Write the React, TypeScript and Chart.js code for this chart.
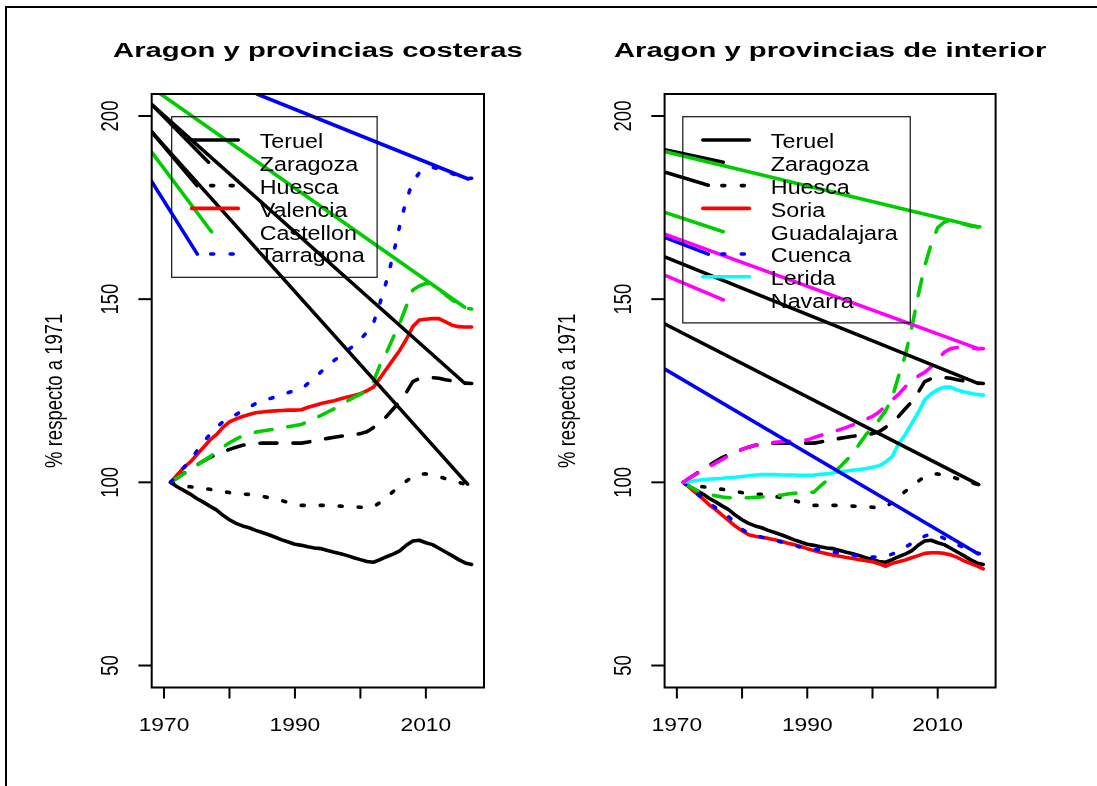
import React, { useEffect, useRef } from "react";
import { Chart, registerables } from "chart.js";

Chart.register(...registerables);

// ---------------- data ----------------
const years = [
  1971, 1972, 1973, 1974, 1975, 1976, 1977, 1978, 1979, 1980,
  1981, 1982, 1983, 1984, 1985, 1986, 1987, 1988, 1989, 1990,
  1991, 1992, 1993, 1994, 1995, 1996, 1997, 1998, 1999, 2000,
  2001, 2002, 2003, 2004, 2005, 2006, 2007, 2008, 2009, 2010,
  2011, 2012, 2013, 2014, 2015, 2016, 2017,
];

const teruel = [
  100, 98.8, 97.8, 96.8, 95.6, 94.6, 93.5, 92.5, 91, 89.8,
  88.8, 88.1, 87.6, 86.9, 86.3, 85.7, 85, 84.3, 83.7, 83.1,
  82.8, 82.4, 82.1, 81.9, 81.4, 80.9, 80.5, 80, 79.4, 78.9,
  78.4, 78.2, 78.9, 79.7, 80.4, 81.3, 82.8, 84, 84.2, 83.5,
  83, 82, 81, 80, 78.9, 78, 77.6,
];
const zaragoza = [
  100, 101.2, 102.4, 103.5, 104.7, 105.8, 106.8, 107.6, 108.3, 109,
  109.6, 110.1, 110.4, 110.6, 110.7, 110.7, 110.7, 110.7, 110.7, 110.7,
  110.7, 111, 111.4, 111.7, 112, 112.3, 112.6, 112.8, 113, 113.3,
  113.8, 115, 116.5, 118, 120, 122, 124.5, 127.5, 128.3, 128.5,
  128.6, 128.4, 128, 127.7, 127.4, 127.1, 127,
];
const huesca = [
  100, 99.5, 99, 98.8, 98.6, 98.3, 98.1, 97.8, 97.5, 97.2,
  96.9, 96.8, 96.7, 96.5, 96.2, 95.8, 95.5, 95, 94.5, 94,
  93.7, 93.7, 93.7, 93.7, 93.7, 93.6, 93.5, 93.4, 93.3, 93.2,
  93.1, 93.3, 94.5, 96, 97.5, 98.8, 100.3, 101.5, 102.2, 102.3,
  102, 101.6, 101, 100.5, 100, 99.5, 99.3,
];
const valencia = [
  100, 102, 104, 105.5, 107.5, 109.5, 111.5, 113, 115, 116.5,
  117.3, 118, 118.5, 119, 119.2, 119.4, 119.5, 119.6, 119.7, 119.7,
  119.8, 120.5, 121, 121.5, 121.9, 122.3, 122.8, 123.3, 123.7, 124.2,
  125, 126, 128.5, 131, 133.5, 136, 139, 142.5, 144.3, 144.5,
  144.7, 144.7, 143.8, 142.9, 142.5, 142.4, 142.4,
];
const castellon = [
  100, 101.2, 102.3, 103.4, 104.6, 105.8, 107, 108.3, 109.6, 110.8,
  111.8, 112.7, 113.3, 113.7, 114, 114.3, 114.5, 114.8, 115.2, 115.5,
  115.8, 116.6, 117.4, 118.3, 119.2, 120.1, 121.1, 122.2, 123.2, 124,
  125, 127.5, 132, 135.5, 139.5, 143.4, 148, 152.5, 153.6, 154.3,
  154, 152.8, 151.2, 149.8, 148.6, 147.6, 147.3,
];
const tarragona = [
  100, 102, 104, 106, 108.5, 111, 113, 115, 116.5, 117.5,
  118.5, 119.5, 120.5, 121.5, 122.3, 122.8, 123.3, 123.8, 124.5, 125,
  125.5, 127, 128.5, 130.2, 131.8, 133.3, 134.5, 136, 137.3, 139,
  141, 143.5, 149, 155, 162, 170, 177, 182, 184.5, 185.5,
  186, 185.5, 185, 184.3, 183.5, 183, 183,
];
const soria = [
  100, 98.5, 97, 95.5, 93.8, 92.5, 91, 89.5, 88, 86.8,
  85.7, 85.3, 85, 84.7, 84.3, 83.9, 83.4, 83, 82.5, 81.9,
  81.4, 80.9, 80.5, 80.1, 79.8, 79.5, 79.2, 78.9, 78.6, 78.3,
  77.8, 77.1, 77.9, 78.3, 78.8, 79.4, 80, 80.6, 80.8, 80.8,
  80.6, 80.2, 79.5, 78.6, 77.9, 77.2, 76.4,
];
const guadalajara = [
  100, 98.8, 97.8, 97.2, 96.7, 96.3, 96, 95.8, 95.8, 95.8,
  95.8, 95.9, 96, 96.2, 96.3, 96.5, 96.8, 97, 97.2, 97.3,
  97.3, 99, 100.5, 102.5, 104.2, 106, 107.8, 110.5, 113, 115,
  117, 119.5, 123, 129, 134.5, 142, 151, 159, 165, 169.5,
  171, 171.5, 171, 170.5, 170, 169.8, 169.7,
];
const cuenca = [
  100, 98.5, 97, 95.7, 94.3, 93, 91.7, 90.5, 88.8, 87.2,
  86, 85.5, 85, 84.7, 84.2, 83.7, 83.3, 82.8, 82.3, 81.9,
  81.7, 81.5, 81.2, 81, 80.7, 80.4, 80.2, 80, 79.8, 79.6,
  79.6, 79.8, 80.4, 81.2, 82.3, 83.3, 84.3, 85.3, 86, 85.5,
  84.7, 83.8, 83, 82.2, 81.4, 80.7, 80.3,
];
const lerida = [
  100, 100.3, 100.5, 100.7, 100.9, 101, 101.1, 101.3, 101.4, 101.6,
  101.8, 102, 102.1, 102.1, 102.1, 102, 102, 102, 101.9, 101.9,
  102, 102.2, 102.3, 102.6, 102.9, 103.1, 103.3, 103.5, 103.8, 104.1,
  104.5, 105.5, 107, 110.5, 113, 116, 119, 122.5, 124.2, 125.3,
  126, 126, 125.2, 124.7, 124.3, 124, 123.8,
];
const navarra = [
  100, 101.3, 102.3, 103.3, 104.3, 105.3, 106.3, 107.3, 108.2, 109,
  109.6, 110.1, 110.4, 110.7, 110.9, 111.1, 111.2, 111.3, 111.4, 111.6,
  112.2, 112.8, 113.3, 113.8, 114.4, 115, 115.7, 116.3, 117.2, 118,
  119.2, 120.8, 122.5, 124, 126, 127.9, 129, 130, 131.5, 133.5,
  135.5, 136.5, 136.8, 136.8, 136.7, 136.5, 136.5,
];

// stray straight strokes present in the original rendering: [x0, y0, x1, y1] in data units
const leftStrayLines = [
  { color: "#000000", seg: [1968.09, 203.2, 2015.93, 127.05] },
  { color: "#000000", seg: [1968.09, 195.7, 2016.37, 99.5] },
  { color: "#00CD00", seg: [1969.48, 206, 2015.93, 147.8] },
  { color: "#0000FF", seg: [1984.2, 206, 2016.48, 182.8] },
  { color: "#000000", seg: [1968.09, 203.2, 1976.8, 187.4] },
  { color: "#000000", seg: [1968.09, 195.7, 1975.04, 181.0] },
  { color: "#00CD00", seg: [1968.09, 190.2, 1977.25, 168.4] },
  { color: "#0000FF", seg: [1968.09, 182.2, 1975.09, 162.3] },
];
const rightStrayLines = [
  { color: "#000000", seg: [1967.95, 161.7, 2016.18, 127.0] },
  { color: "#000000", seg: [1967.95, 143.4, 2016.29, 99.4] },
  { color: "#00CD00", seg: [1967.95, 190.4, 2016.18, 169.7] },
  { color: "#0000FF", seg: [1967.95, 131.1, 2016.18, 80.5] },
  { color: "#FF00FF", seg: [1967.95, 167.9, 2016.18, 136.5] },
  { color: "#000000", seg: [1967.92, 190.9, 1977.12, 187.4] },
  { color: "#000000", seg: [1967.92, 184.8, 1974.82, 181.1] },
  { color: "#00CD00", seg: [1967.92, 173.8, 1977.12, 168.4] },
  { color: "#0000FF", seg: [1967.92, 167.0, 1974.82, 162.3] },
  { color: "#FF00FF", seg: [1967.92, 156.7, 1977.12, 149.8] },
];

const yTicks = [50, 100, 150, 200];
const xTicks = [1970, 1980, 1990, 2000, 2010];
const xTickLabels = ["1970", "", "1990", "", "2010"];
const yAxisTitle = "% respecto a 1971";
const titles = ["Aragon y provincias costeras", "Aragon y provincias de interior"];

// ---------------- styling ----------------
const BLACK = "#000000";
const GREEN = "#00CD00";
const BLUE = "#0000FF";
const RED = "#FF0000";
const MAGENTA = "#FF00FF";
const CYAN = "#00FFFF";
const LW = 3.6;
const DASH: Record<string, number[]> = { solid: [], dashed: [17, 16], dotted: [3, 16] };
const FONT = '"Liberation Sans", Arial, Helvetica, sans-serif';

const leftSeries = [
  { label: "Teruel", values: teruel, color: BLACK, lty: "solid" },
  { label: "Zaragoza", values: zaragoza, color: BLACK, lty: "dashed" },
  { label: "Huesca", values: huesca, color: BLACK, lty: "dotted" },
  { label: "Valencia", values: valencia, color: RED, lty: "solid" },
  { label: "Castellon", values: castellon, color: GREEN, lty: "dashed" },
  { label: "Tarragona", values: tarragona, color: BLUE, lty: "dotted" },
];
const rightSeries = [
  { label: "Teruel", values: teruel, color: BLACK, lty: "solid" },
  { label: "Zaragoza", values: zaragoza, color: BLACK, lty: "dashed" },
  { label: "Huesca", values: huesca, color: BLACK, lty: "dotted" },
  { label: "Soria", values: soria, color: RED, lty: "solid" },
  { label: "Guadalajara", values: guadalajara, color: GREEN, lty: "dashed" },
  { label: "Cuenca", values: cuenca, color: BLUE, lty: "dotted" },
  { label: "Lerida", values: lerida, color: CYAN, lty: "solid" },
  { label: "Navarra", values: navarra, color: MAGENTA, lty: "dashed" },
];

const panels = [
  {
    title: titles[0],
    series: leftSeries,
    stray: leftStrayLines,
    canvasLeft: 0,
    width: 548,
    padding: { left: 151.7, right: 64, top: 94, bottom: 98.5 },
    legendDx: 20,
  },
  {
    title: titles[1],
    series: rightSeries,
    stray: rightStrayLines,
    canvasLeft: 548,
    width: 549,
    padding: { left: 116.6, right: 101.4, top: 94, bottom: 98.5 },
    legendDx: 18.2,
  },
];

function stretchText(
  ctx: CanvasRenderingContext2D,
  text: string,
  x: number,
  y: number,
  size: number,
  bold: boolean,
  sx: number,
  align: CanvasTextAlign,
  rotate: boolean
) {
  ctx.save();
  ctx.translate(x, y);
  if (rotate) {
    ctx.rotate(-Math.PI / 2);
    ctx.scale(1, sx);
  } else {
    ctx.scale(sx, 1);
  }
  ctx.font = `${bold ? "bold " : ""}${size}px ${FONT}`;
  ctx.textAlign = align;
  ctx.textBaseline = "alphabetic";
  ctx.fillStyle = "#000";
  ctx.fillText(text, 0, 0);
  ctx.restore();
}

function seg(ctx: CanvasRenderingContext2D, x0: number, y0: number, x1: number, y1: number) {
  ctx.beginPath();
  ctx.moveTo(x0, y0);
  ctx.lineTo(x1, y1);
  ctx.stroke();
}

function makeRPlot(panel: any) {
  return {
    id: "rplot",
    afterDraw(chart: any) {
      const { ctx, chartArea: a } = chart;
      const xs = chart.scales.x;
      const ys = chart.scales.y;
      ctx.save();
      ctx.strokeStyle = "#000";
      ctx.lineWidth = 2;
      ctx.lineCap = "butt";
      ctx.setLineDash([]);
      ctx.strokeRect(a.left, a.top, a.right - a.left, a.bottom - a.top);

      yTicks.forEach((v) => {
        const py = ys.getPixelForValue(v);
        seg(ctx, a.left - 13.3, py, a.left, py);
        stretchText(ctx, String(v), a.left - 33.4, py, 18.5, false, 1.27, "center", true);
      });
      xTicks.forEach((v, i) => {
        const px = xs.getPixelForValue(v);
        seg(ctx, px, a.bottom, px, a.bottom + 11);
        if (xTickLabels[i]) {
          stretchText(ctx, xTickLabels[i], px, a.bottom + 43.2, 19, false, 1.2, "center", false);
        }
      });
      stretchText(ctx, yAxisTitle, a.left - 90, (a.top + a.bottom) / 2, 18.5, false, 1.3, "center", true);
      stretchText(ctx, panel.title, (a.left + a.right) / 2, a.top - 37.3, 19.5, true, 1.5, "center", false);

      // legend
      const lx = a.left + panel.legendDx;
      const ly = a.top + 22.7;
      const rowH = 22.8;
      const textSx = 1.165;
      ctx.font = `20px ${FONT}`;
      const maxW = Math.max(...panel.series.map((s: any) => ctx.measureText(s.label).width * textSx));
      const boxW = 88 + maxW + 12.5;
      const boxH = 46.6 + rowH * (panel.series.length - 1);
      ctx.lineWidth = 1.2;
      ctx.strokeStyle = "#111";
      ctx.strokeRect(lx, ly, boxW, boxH);
      const keyStart = lx + 20;
      panel.series.forEach((s: any, i: number) => {
        const ry = ly + 23.3 + rowH * i;
        ctx.strokeStyle = s.color;
        ctx.lineWidth = LW;
        ctx.lineCap = "round";
        if (s.lty === "solid") {
          ctx.setLineDash([]);
          seg(ctx, keyStart, ry, keyStart + 46.6, ry);
        } else if (s.lty === "dotted") {
          ctx.setLineDash([3, 16.5]);
          seg(ctx, keyStart + 19, ry, keyStart + 46, ry);
          ctx.setLineDash([]);
        }
        stretchText(ctx, s.label, lx + 88, ry + 8.3, 20, false, textSx, "left", false);
      });
      ctx.restore();
    },
  };
}

function buildDatasets(panel: any) {
  const seriesSets = panel.series.map((s: any) => ({
    label: s.label,
    data: years.map((yr, i) => ({ x: yr, y: s.values[i] })),
    borderColor: s.color,
    borderWidth: LW,
    borderDash: DASH[s.lty],
    borderCapStyle: "round",
    borderJoinStyle: "round",
    pointRadius: 0,
    fill: false,
    tension: 0,
    clip: 0,
  }));
  const straySets = panel.stray.map((l: any) => ({
    label: "",
    data: [
      { x: l.seg[0], y: l.seg[1] },
      { x: l.seg[2], y: l.seg[3] },
    ],
    borderColor: l.color,
    borderWidth: LW,
    borderCapStyle: "round",
    pointRadius: 0,
    fill: false,
    tension: 0,
    clip: 0,
  }));
  // Chart.js paints the first dataset on top; R paints later series on top
  return [...straySets, ...seriesSets.reverse()];
}

function Panel({ panel }: { panel: any }) {
  const ref = useRef<HTMLCanvasElement | null>(null);
  useEffect(() => {
    if (!ref.current) return;
    const chart = new Chart(ref.current, {
      type: "line",
      data: { datasets: buildDatasets(panel) as any },
      options: {
        animation: false,
        responsive: false,
        maintainAspectRatio: false,
        events: [],
        layout: { padding: panel.padding },
        plugins: {
          legend: { display: false },
          tooltip: { enabled: false },
          title: { display: false },
        },
        scales: {
          x: { type: "linear", min: 1968.12, max: 2018.88, display: false },
          y: { type: "linear", min: 44, max: 206, display: false },
        },
        elements: { point: { radius: 0 } },
      },
      plugins: [makeRPlot(panel)],
    } as any);
    return () => chart.destroy();
  }, [panel]);
  return (
    <canvas
      ref={ref}
      width={panel.width}
      height={786}
      style={{
        position: "absolute",
        left: panel.canvasLeft,
        top: 0,
        width: panel.width,
        height: 786,
      }}
    />
  );
}

export default function App() {
  return (
    <div
      style={{
        position: "absolute",
        left: 0,
        top: 0,
        width: 1097,
        height: 786,
        overflow: "hidden",
        background: "#fff",
      }}
    >
      <div
        style={{
          position: "absolute",
          left: 5,
          top: 6,
          width: 1300,
          height: 1000,
          borderLeft: "2px solid #000",
          borderTop: "2px solid #000",
        }}
      />
      {panels.map((p, i) => (
        <Panel key={i} panel={p} />
      ))}
    </div>
  );
}
